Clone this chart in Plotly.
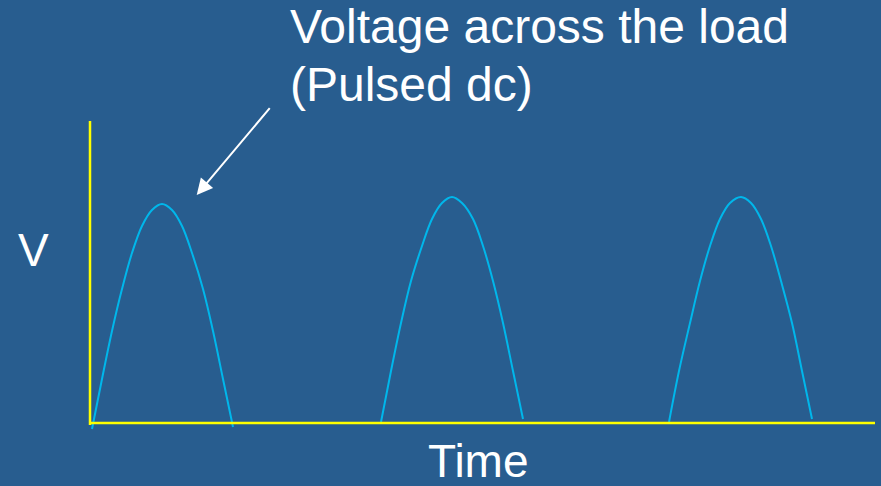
import plotly.graph_objects as go

# (time units ~ px, voltage units ~ px above the time axis)
pulse1_t = [2, 12, 22, 32, 42, 52, 62, 72, 82, 92, 102, 113, 123, 133, 143]
pulse1_v = [-6, 44, 92, 134, 170, 197, 213, 219, 213, 197, 170, 134, 92, 44, -4]

pulse2_t = [291, 301, 311, 321, 332, 342, 352, 362, 372, 383, 393, 403, 413, 423, 433]
pulse2_v = [1, 52, 100, 142, 177, 204, 220, 226, 220, 204, 177, 142, 100, 52, 4]

pulse3_t = [579, 589, 600, 610, 620, 630, 640, 651, 661, 671, 681, 691, 702, 712, 722]
pulse3_v = [1, 52, 100, 142, 177, 204, 220, 226, 220, 204, 177, 142, 100, 52, 4]

title_lines = ["Voltage across the load", "(Pulsed dc)"]
y_label = "V"
x_label = "Time"

BG = "#285D8F"
CYAN = "#00B7EB"
YELLOW = "#FFFF00"
FONT = "Liberation Sans, Arial, sans-serif"

fig = go.Figure()
for t, v in [(pulse1_t, pulse1_v), (pulse2_t, pulse2_v), (pulse3_t, pulse3_v)]:
    fig.add_trace(go.Scatter(x=t, y=v, mode="lines",
                             line=dict(color=CYAN, width=2, shape="spline", smoothing=1.0),
                             hoverinfo="skip", showlegend=False))

# axes drawn as yellow lines
fig.add_shape(type="line", x0=0, x1=785, y0=0, y1=0, xref="x", yref="y",
              line=dict(color=YELLOW, width=2.5))
fig.add_shape(type="line", x0=0, x1=0, y0=-2, y1=302, xref="x", yref="y",
              line=dict(color=YELLOW, width=2.5))

anns = [
    dict(text=title_lines[0], x=0.2595, y=1.211, xanchor="left", yanchor="middle", size=48),
    dict(text=title_lines[1], x=0.2595, y=1.0434, xanchor="left", yanchor="middle", size=48),
    dict(text=y_label, x=-0.05875, y=0.5665, xanchor="center", yanchor="middle", size=46),
    dict(text=x_label, x=0.4975, y=-0.0434, xanchor="center", yanchor="middle", size=46),
]
for a in anns:
    size = a.pop("size")
    fig.add_annotation(xref="paper", yref="paper", showarrow=False,
                       font=dict(family=FONT, size=size, color="white"), **a)

fig.add_annotation(xref="paper", yref="paper", x=0.14588, y=0.7254, text="",
                   showarrow=True, ax=74.3, ay=-88.3, arrowhead=2, arrowsize=1.6,
                   arrowwidth=2, arrowcolor="white")

fig.update_layout(
    width=881, height=486,
    margin=dict(l=80, r=1, t=100, b=40),
    paper_bgcolor=BG, plot_bgcolor=BG,
    xaxis=dict(range=[-10, 790], visible=False, fixedrange=True),
    yaxis=dict(range=[-23, 323], visible=False, fixedrange=True),
    showlegend=False,
)

fig.write_html("out.html", config={"displayModeBar": False},
               post_script="document.body.style.margin='0';document.body.style.background='%s';" % BG)
